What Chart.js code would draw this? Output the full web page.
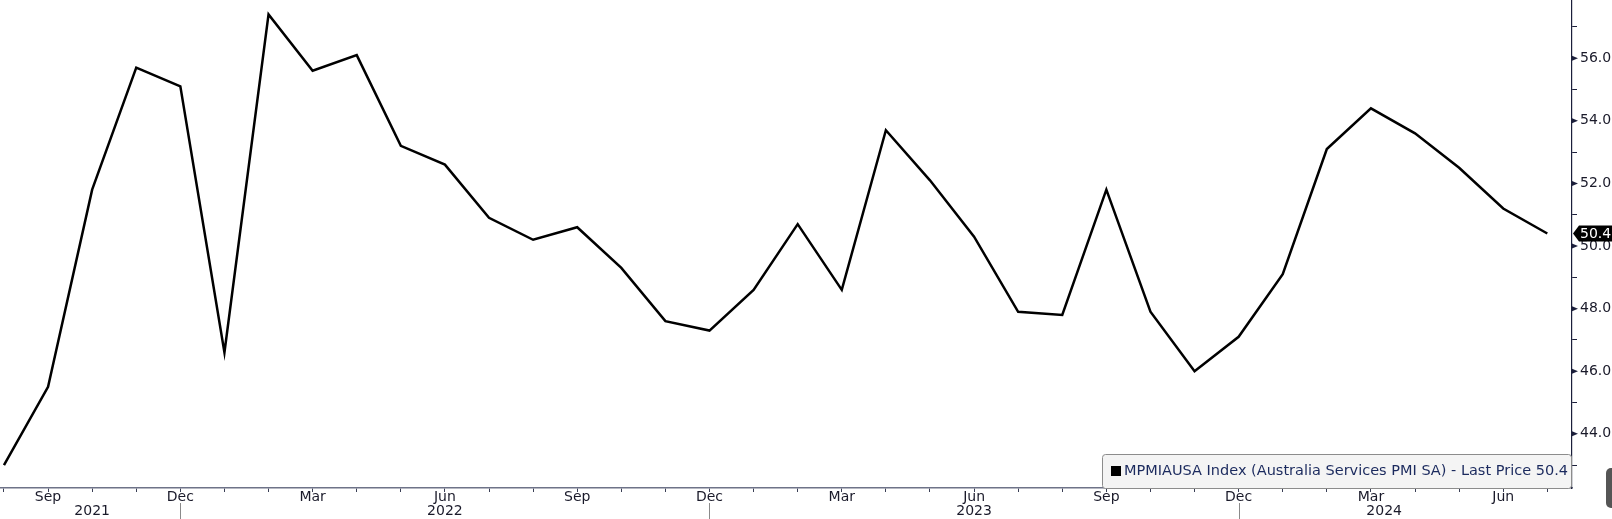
<!DOCTYPE html>
<html lang="en">
<head>
    <meta charset="UTF-8">
    <title>Australia Services PMI</title>
    <style>
        body {
            margin: 0;
            padding: 0;
            background: #ffffff;
        }

        .wrap {
            width: 1612px;
            height: 519px;
        }
    </style>
</head>
<body>
    <div class="wrap">
        <canvas id="pmiChart" width="1612" height="519"></canvas>
    </div>

    <script src="https://cdn.jsdelivr.net/npm/chart.js"></script>
    <script>
        // Monthly data, Aug 2021 - Jul 2024
        const months = ["Jan", "Feb", "Mar", "Apr", "May", "Jun", "Jul", "Aug", "Sep", "Oct", "Nov", "Dec"];
        const startMonth = 7; // Aug 2021 (0 based)
        const pmiValues = [
            43.0, 45.5, 51.8, 55.7, 55.1, 46.6, 57.4, 55.6, 56.1, 53.2, 52.6, 50.9,
            50.2, 50.6, 49.3, 47.6, 47.3, 48.6, 50.7, 48.6, 53.7, 52.1, 50.3, 47.9,
            47.8, 51.8, 47.9, 46.0, 47.1, 49.1, 53.1, 54.4, 53.6, 52.5, 51.2, 50.4
        ];
        const shownMonths = ["Sep", "Dec", "Mar", "Jun"];
        const yTicks = [43, 44, 45, 46, 47, 48, 49, 50, 51, 52, 53, 54, 55, 56, 57, 58];
        const yearLabels = ["2021", "2022", "2023", "2024"];
        const yearLabelPos = [2, 10, 22, 31.3];   // month index under which the year is centred
        const yearBreaks = [4, 16, 28];           // Dec ticks
        const legendText = "MPMIAUSA Index (Australia Services PMI SA) - Last Price 50.4";

        const monthName = (i) => months[(i + startMonth) % 12];
        const points = pmiValues.map((v, i) => ({ x: i, y: v }));
        const lastValue = pmiValues[pmiValues.length - 1];

        const FONT = "'DejaVu Sans', sans-serif";

        // extra drawing: year row, price tag, legend box
        const decorations = {
            id: "decorations",
            afterDraw(chart) {
                const c = chart.ctx;
                const xs = chart.scales.x;
                const ys = chart.scales.y;
                c.save();

                // year separators
                c.strokeStyle = "#8a8a8a";
                c.lineWidth = 1;
                yearBreaks.forEach((m) => {
                    const px = Math.round(xs.getPixelForValue(m)) + 0.5;
                    c.beginPath();
                    c.moveTo(px, 503);
                    c.lineTo(px, 519);
                    c.stroke();
                });

                // year labels
                c.fillStyle = "#1a1a2a";
                c.font = "14px " + FONT;
                c.textAlign = "center";
                c.textBaseline = "middle";
                yearLabels.forEach((t, i) => {
                    c.fillText(t, xs.getPixelForValue(yearLabelPos[i]), 511);
                });

                // major tick arrows on the right axis
                c.fillStyle = "#1b1f3b";
                ys.ticks.forEach((t) => {
                    if (t.value % 2 === 0) {
                        const py = ys.getPixelForValue(t.value);
                        c.beginPath();
                        c.moveTo(ys.left, py - 2.5);
                        c.lineTo(ys.left + 6, py);
                        c.lineTo(ys.left, py + 2.5);
                        c.closePath();
                        c.fill();
                    }
                });

                // last price tag
                const ty = ys.getPixelForValue(lastValue);
                const tx = ys.left + 1;
                c.fillStyle = "#000000";
                c.beginPath();
                c.moveTo(tx, ty);
                c.lineTo(tx + 6, ty - 8);
                c.lineTo(1612, ty - 8);
                c.lineTo(1612, ty + 8);
                c.lineTo(tx + 6, ty + 8);
                c.closePath();
                c.fill();
                c.fillStyle = "#ffffff";
                c.font = "14px " + FONT;
                c.textAlign = "left";
                c.fillText(lastValue.toFixed(1), tx + 7, ty + 0.5);

                // legend box
                const lx = 1102, ly = 454, lw = 469, lh = 34;
                c.fillStyle = "#f4f4f4";
                c.strokeStyle = "#8c8c8c";
                c.beginPath();
                c.roundRect(lx + 0.5, ly + 0.5, lw, lh, 3);
                c.fill();
                c.stroke();
                c.fillStyle = "#000000";
                c.fillRect(lx + 9, ly + 12, 10, 10);
                c.fillStyle = "#1b2a5e";
                c.font = "14.5px " + FONT;
                c.textAlign = "left";
                c.fillText(legendText, lx + 22, ly + 17.5);

                // corner widget
                c.fillStyle = "#555555";
                c.beginPath();
                c.roundRect(1606, 468, 16, 40, 5);
                c.fill();

                c.restore();
            },
        };

        const ctx = document.getElementById("pmiChart").getContext("2d");
        const chart = new Chart(ctx, {
            type: "line",
            data: {
                datasets: [{
                    label: "Australia Services PMI SA",
                    data: points,
                    borderColor: "#000000",
                    borderWidth: 2.5,
                    pointRadius: 0,
                    tension: 0,
                    fill: false,
                }],
            },
            options: {
                responsive: false,
                animation: false,
                layout: { padding: 0 },
                plugins: {
                    legend: { display: false },
                    tooltip: { enabled: false },
                },
                scales: {
                    x: {
                        type: "linear",
                        min: -0.09,
                        max: 35.56,
                        afterBuildTicks(scale) {
                            scale.ticks = pmiValues.map((v, i) => ({ value: i }));
                        },
                        afterFit(scale) {
                            scale.height = 31;
                            scale.paddingLeft = 0;
                            scale.paddingRight = 0;
                        },
                        ticks: {
                            autoSkip: false,
                            maxRotation: 0,
                            padding: -3,
                            color: "#1a1a2a",
                            font: { family: FONT, size: 14 },
                            callback: (v) => {
                                const name = monthName(v);
                                return shownMonths.includes(name) ? name : "";
                            },
                        },
                        grid: {
                            drawOnChartArea: false,
                            tickLength: 4,
                            color: "#3a3f55",
                        },
                        border: { color: "#6e7388", width: 1.5 },
                    },
                    y: {
                        position: "right",
                        min: 42.27,
                        max: 57.86,
                        afterBuildTicks(scale) {
                            scale.ticks = yTicks.map((v) => ({ value: v }));
                        },
                        afterFit(scale) {
                            scale.width = 40;
                            scale.paddingTop = 0;
                            scale.paddingBottom = 0;
                        },
                        ticks: {
                            padding: 3,
                            color: "#1a1a2a",
                            font: { family: FONT, size: 14 },
                            callback: (v) => (v % 2 === 0 ? v.toFixed(1) : ""),
                        },
                        grid: {
                            drawOnChartArea: false,
                            tickLength: 5,
                            color: (c) => (c.tick && c.tick.value % 2 !== 0 ? "#1b1f3b" : "rgba(0,0,0,0)"),
                        },
                        border: { color: "#1b1f3b", width: 1.2 },
                    },
                },
            },
            plugins: [decorations],
        });
    </script>
</body>
</html>
